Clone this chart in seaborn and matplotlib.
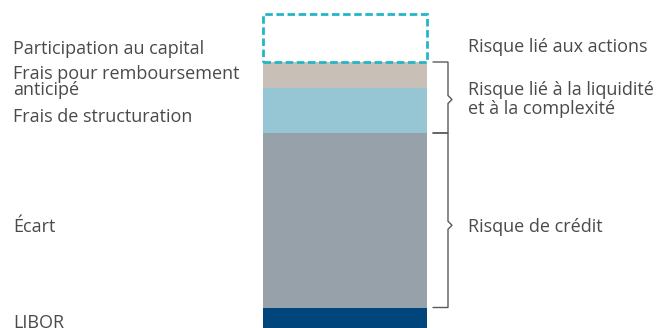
import matplotlib
matplotlib.use("Agg")
import matplotlib.pyplot as plt
import seaborn as sns
import pandas as pd
import numpy as np
from matplotlib.transforms import blended_transform_factory

# Stack components, bottom -> top
components = ["LIBOR", "Écart", "Frais de structuration",
              "Frais pour remboursement\nanticipé", "Participation au capital"]
values = [3.0, 17.45, 4.5, 2.6, 4.8]
colors = ["#00457c", "#97a1aa", "#96c6d4", "#c8c0b7", "#22b5c8"]

# Risk groups: label, first component index, last component index, bracket?
risk_labels = ["Risque de crédit", "Risque lié à la liquidité\net à la complexité",
               "Risque lié aux actions"]
risk_first = [1, 2, 4]
risk_last = [1, 3, 4]
risk_bracket = [True, True, False]

sns.set_theme(style="white")
plt.rcParams["font.family"] = ["Open Sans", "DejaVu Sans"]

W, H = 662, 328
fig = plt.figure(figsize=(W / 100, H / 100), dpi=100)
ax = fig.add_axes([0, 0, 1, 1])

bottoms = np.concatenate([[0], np.cumsum(values)[:-1]])
tops = bottoms + np.array(values)

for i, (name, v, b, c) in enumerate(zip(components, values, bottoms, colors)):
    df = pd.DataFrame({"cat": ["x"], "val": [v]})
    if i == len(components) - 1:
        sns.barplot(data=df, x="cat", y="val", bottom=b, ax=ax, width=0.8,
                    fill=False, color=c, linewidth=2, linestyle=(0, (2.7, 1.3)),
                    errorbar=None)
    else:
        sns.barplot(data=df, x="cat", y="val", bottom=b, ax=ax, width=0.8,
                    color=c, linewidth=0, saturation=1, errorbar=None)

# bar spans pixel 263..427
unit = 164 / 0.8
ax.set_xlim(-0.4 - 263 / unit, 0.4 + (W - 427) / unit)
ax.set_ylim(0.95, 0.95 + H / 10)
ax.set_axis_off()

tr = blended_transform_factory(fig.transFigure, ax.transData)
txt_color = "#4a4a4a"
fs = 13

# baseline (of last line) offsets (data units) from each segment's middle
left_offsets = [-0.6, -1.2, -1.2, -2.0, -1.6]
for i, name in enumerate(components):
    mid = (bottoms[i] + tops[i]) / 2 + left_offsets[i]
    ax.text(13 / W, mid, name, transform=tr, ha="left", va="baseline",
            fontsize=fs, color=txt_color, linespacing=0.89)

bx0, bx1 = 433 / W, 448 / W
tip = 4 / W
chev_off = [-0.5, -0.2, 0]
text_off = [-1.17, -1.63, -1.37]
for lab, f, l, br, co, to in zip(risk_labels, risk_first, risk_last,
                                 risk_bracket, chev_off, text_off):
    lo, hi = bottoms[f], tops[l]
    mid = (lo + hi) / 2
    if br:
        cm = mid + co
        xs = [bx0, bx1, bx1, bx1 + tip, bx1, bx1, bx0]
        ys = [hi, hi, cm + 0.4, cm, cm - 0.4, lo, lo]
        ax.plot(xs, ys, transform=tr, color="#5a5a5a", lw=1.0,
                solid_joinstyle="miter")
    ax.text(468 / W, mid + to, lab, transform=tr, ha="left", va="baseline",
            fontsize=fs, color=txt_color, linespacing=1.03)

fig.savefig("out.png", dpi=100)
